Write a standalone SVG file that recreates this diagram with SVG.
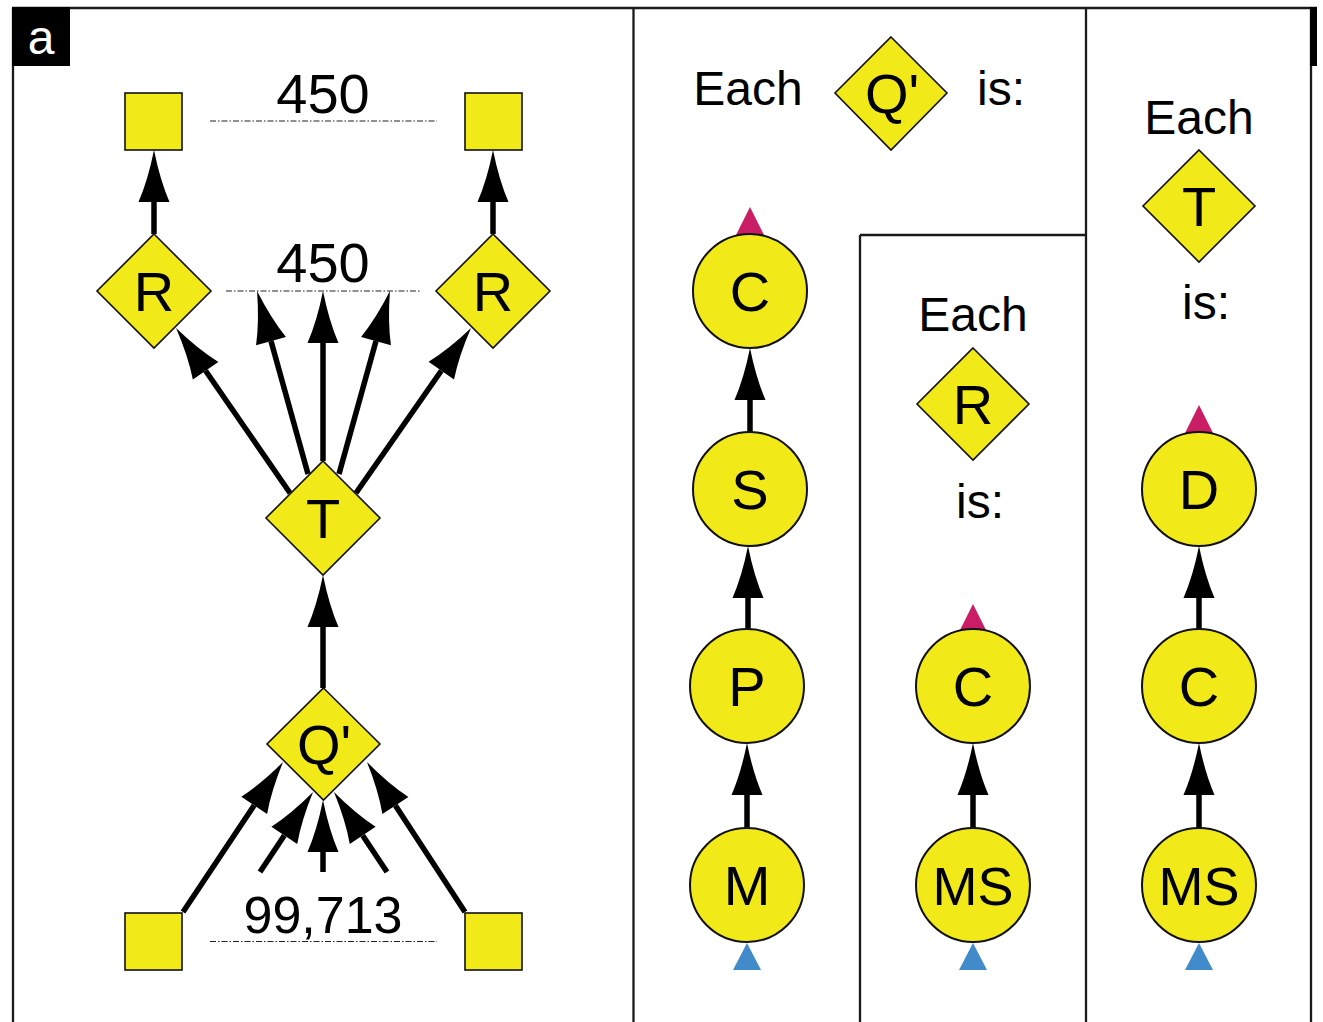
<svg xmlns="http://www.w3.org/2000/svg" width="1323" height="1022" viewBox="0 0 1323 1022">
  <defs>
    <style>
      .frame { stroke: #1a1a1a; stroke-width: 2.3; fill: none; }
      .node { fill: #F2EA18; stroke: #111; stroke-width: 1.6; }
      .circ { fill: #F2EA18; stroke: #111; stroke-width: 2; }
      .lbl { font-family: "Liberation Sans", Arial, Helvetica, sans-serif; font-size: 56px; fill: #000; text-anchor: middle; }
      .cap { font-family: "Liberation Sans", Arial, Helvetica, sans-serif; font-size: 48px; fill: #000; text-anchor: middle; }
      .num { font-family: "Liberation Sans", Arial, Helvetica, sans-serif; fill: #000; text-anchor: middle; }
      .edge { stroke: #000; stroke-width: 5.5; fill: none; marker-end: url(#head); }
      .count { stroke: #222; stroke-width: 1.2; stroke-dasharray: 6 2 1.5 2; fill: none; }
      .top { fill: #C91E66; }
      .bottom { fill: #418BCB; }
    </style>
    <marker id="head" markerUnits="userSpaceOnUse" markerWidth="54" markerHeight="34" viewBox="0 -17 54 34" refX="0" refY="0" orient="auto" overflow="visible">
      <path d="M52,0 Q22,-6 0,-15.5 L0,15.5 Q22,6 52,0 Z" fill="#000"/>
    </marker>
  </defs>

  <rect width="1323" height="1022" fill="#fff"/>

  <!-- panel frames -->
  <g id="frames">
    <line class="frame" x1="12" y1="8" x2="1317" y2="8" stroke-width="2.6"/>
    <line class="frame" x1="13" y1="8" x2="13" y2="1022"/>
    <line class="frame" x1="633.5" y1="8" x2="633.5" y2="1022"/>
    <line class="frame" x1="1086" y1="8" x2="1086" y2="1022"/>
    <line class="frame" x1="860" y1="235" x2="1086" y2="235"/>
    <line class="frame" x1="860" y1="235" x2="860" y2="1022"/>
    <line class="frame" x1="1311" y1="8" x2="1311" y2="1022"/>
    <rect x="1310" y="7" width="7" height="59" fill="#000"/>
    <rect x="12" y="7" width="58" height="59" fill="#000"/>
    <text x="41" y="54" class="cap" fill="#fff" style="fill:#fff">a</text>
  </g>

  <!-- count guides -->
  <g id="counts">
    <line class="count" x1="210" y1="121" x2="437" y2="121"/>
    <line class="count" x1="226" y1="291" x2="420" y2="291"/>
    <line class="count" x1="210" y1="941.5" x2="437" y2="941.5"/>
    <text class="num" x="323" y="113" font-size="56">450</text>
    <text class="num" x="323" y="282" font-size="56">450</text>
    <text class="num" x="323" y="933" font-size="52">99,713</text>
  </g>

  <!-- connectors -->
  <g id="connectors">
    <line class="edge" x1="154" y1="234" x2="154" y2="202"/>
    <line class="edge" x1="493" y1="234" x2="493" y2="202"/>
    <line class="edge" x1="290" y1="493" x2="205.6" y2="370.8"/>
    <line class="edge" x1="308" y1="474" x2="271" y2="341.1"/>
    <line class="edge" x1="323" y1="461" x2="323" y2="343"/>
    <line class="edge" x1="339" y1="474" x2="376" y2="341.1"/>
    <line class="edge" x1="356" y1="493" x2="441.3" y2="370.7"/>
    <line class="edge" x1="323" y1="688" x2="323" y2="627"/>
    <line class="edge" x1="183" y1="912" x2="254.2" y2="805.3"/>
    <line class="edge" x1="260" y1="872" x2="284.3" y2="835.4"/>
    <line class="edge" x1="323" y1="872" x2="323" y2="852"/>
    <line class="edge" x1="387" y1="872" x2="362.7" y2="835.4"/>
    <line class="edge" x1="465" y1="912" x2="395.4" y2="805.5"/>
    <line class="edge" x1="750" y1="432" x2="750" y2="400"/>
    <line class="edge" x1="748" y1="629" x2="748" y2="598"/>
    <line class="edge" x1="747" y1="828" x2="747" y2="795"/>
    <line class="edge" x1="973" y1="828" x2="973" y2="795"/>
    <line class="edge" x1="1199" y1="629" x2="1199" y2="598"/>
    <line class="edge" x1="1199" y1="828" x2="1199" y2="795"/>
  </g>

  <!-- left panel nodes -->
  <g id="sq-top-left"><rect class="node" x="125" y="93" width="57" height="57"/></g>
  <g id="sq-top-right"><rect class="node" x="465" y="93" width="57" height="57"/></g>
  <g id="sq-bottom-left"><rect class="node" x="125" y="913" width="57" height="57"/></g>
  <g id="sq-bottom-right"><rect class="node" x="465" y="913" width="57" height="57"/></g>
  <g id="r-left">
    <polygon class="node" points="154,234 211,291 154,348 97,291"/>
    <text class="lbl" x="154" y="311">R</text>
  </g>
  <g id="r-right">
    <polygon class="node" points="493,234 550,291 493,348 436,291"/>
    <text class="lbl" x="493" y="311">R</text>
  </g>
  <g id="t-main">
    <polygon class="node" points="323,461 380,518 323,575 266,518"/>
    <text class="lbl" x="323" y="538">T</text>
  </g>
  <g id="q-main">
    <polygon class="node" points="323.5,688 380,744 323.5,800 267,744"/>
    <text class="lbl" x="324" y="764">Q'</text>
  </g>

  <!-- Q' breakdown -->
  <g id="q-legend">
    <text class="cap" x="748" y="105">Each</text>
    <polygon class="node" points="891,37 947,93 891,150 835,93"/>
    <text class="lbl" x="892" y="113">Q'</text>
    <text class="cap" x="1001" y="105">is:</text>
  </g>
  <g id="q-c">
    <polygon class="top" points="750,207 735,237 765,237"/>
    <circle class="circ" cx="750" cy="291" r="57"/>
    <text class="lbl" x="750" y="311">C</text>
  </g>
  <g id="q-s">
    <circle class="circ" cx="750" cy="489" r="57"/>
    <text class="lbl" x="750" y="509">S</text>
  </g>
  <g id="q-p">
    <circle class="circ" cx="747" cy="686" r="57"/>
    <text class="lbl" x="747" y="706">P</text>
  </g>
  <g id="q-m">
    <circle class="circ" cx="747" cy="885" r="57"/>
    <text class="lbl" x="747" y="905">M</text>
    <polygon class="bottom" points="747,943 733,970 761,970"/>
  </g>

  <!-- R breakdown -->
  <g id="r-legend">
    <text class="cap" x="973" y="331">Each</text>
    <polygon class="node" points="973,348 1029,404 973,460 917,404"/>
    <text class="lbl" x="973" y="424">R</text>
    <text class="cap" x="980" y="518">is:</text>
  </g>
  <g id="r-c">
    <polygon class="top" points="973,604 958,634 988,634"/>
    <circle class="circ" cx="973" cy="686" r="57"/>
    <text class="lbl" x="973" y="706">C</text>
  </g>
  <g id="r-ms">
    <circle class="circ" cx="973" cy="885" r="57"/>
    <text class="lbl" x="973" y="905" font-size="54" style="font-size:54px">MS</text>
    <polygon class="bottom" points="973,943 959,970 987,970"/>
  </g>

  <!-- T breakdown -->
  <g id="t-legend">
    <text class="cap" x="1199" y="134">Each</text>
    <polygon class="node" points="1199,150 1255,206 1199,262 1143,206"/>
    <text class="lbl" x="1199" y="226">T</text>
    <text class="cap" x="1206" y="319">is:</text>
  </g>
  <g id="t-d">
    <polygon class="top" points="1199,405 1184,435 1214,435"/>
    <circle class="circ" cx="1199" cy="489" r="57"/>
    <text class="lbl" x="1199" y="509">D</text>
  </g>
  <g id="t-c">
    <circle class="circ" cx="1199" cy="686" r="57"/>
    <text class="lbl" x="1199" y="706">C</text>
  </g>
  <g id="t-ms">
    <circle class="circ" cx="1199" cy="885" r="57"/>
    <text class="lbl" x="1199" y="905" style="font-size:54px">MS</text>
    <polygon class="bottom" points="1199,943 1185,970 1213,970"/>
  </g>
</svg>
